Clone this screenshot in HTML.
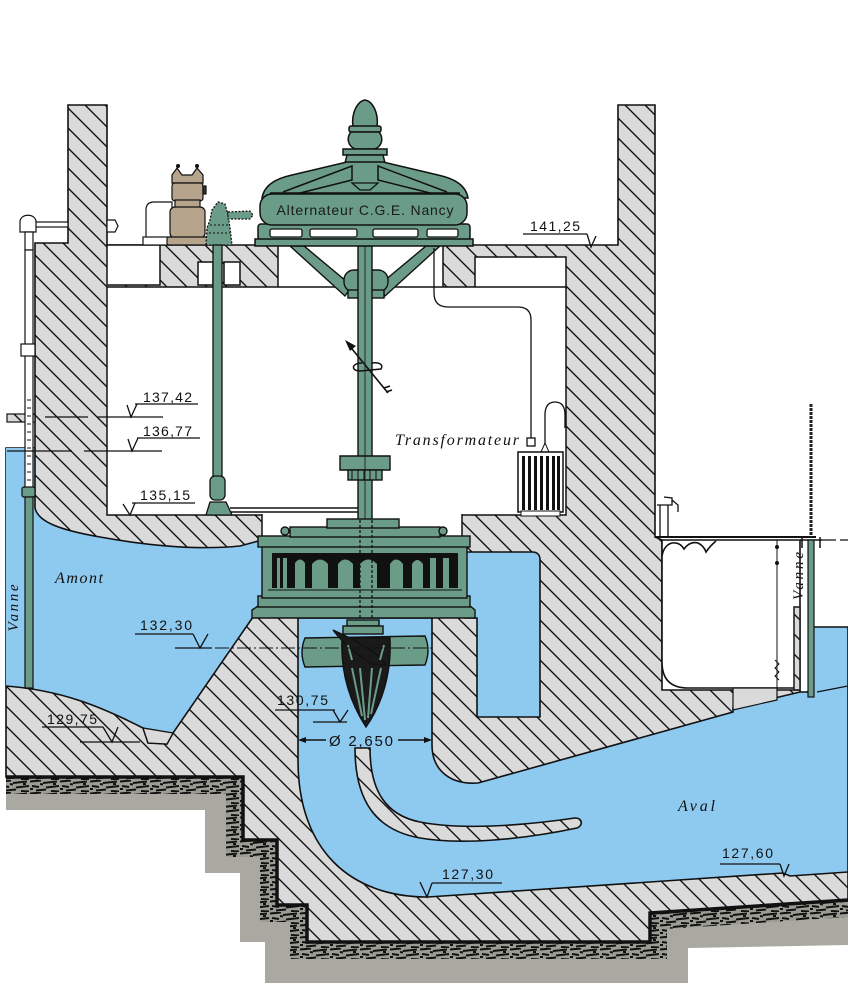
<!DOCTYPE html>
<html><head><meta charset="utf-8"><style>html,body{margin:0;padding:0;background:#fff}svg{display:block}</style></head>
<body>
<svg width="848" height="1000" viewBox="0 0 848 1000" xmlns="http://www.w3.org/2000/svg">
<defs>
<pattern id="h" patternUnits="userSpaceOnUse" width="20" height="20">
<rect width="20" height="20" fill="#dadada"/>
<path d="M-5,-5 L25,25 M-5,15 L5,25 M15,-5 L25,5" stroke="#111" stroke-width="1.4"/>
</pattern>
<pattern id="rk" patternUnits="userSpaceOnUse" width="30" height="12">
<rect width="30" height="12" fill="#9c9c94"/>
<path d="M0,1.5 L11,0.5 M13,3 L27,1.5 M2,6 L9,7 M16,7.5 L29,6 M6,10.5 L16,9.5 M21,11 L29,11.5 M10,4 L13,4.5 M23,4 L26,4 M0,9 L3,9" stroke="#111" stroke-width="2"/>
</pattern>
<clipPath id="rc"><path d="M6,777 L243,777 L243,840 L277,840 L277,905 L307,905 L307,942 L650,942 L650,913 L848,900 L848,945 L688,948 L688,983 L265,983 L265,942 L240,942 L240,873 L205,873 L205,810 L6,810 Z"/></clipPath>
</defs>
<rect width="848" height="1000" fill="#fff"/>

<!-- concrete envelope -->
<path d="M68,105 L107,105 L107,245 L618,245 L618,105 L655,105 L655,537 L662,540 L662,690 L800,690 L800,693 L848,686 L848,900 L650,913 L650,942 L307,942 L307,905 L277,905 L277,840 L243,840 L243,777 L6,777 L6,448 L35,448 L35,243 L68,243 Z" fill="url(#h)" stroke="#111" stroke-width="1.6"/>

<!-- outside ledge at 137,42 -->
<rect x="7" y="414" width="28" height="8" fill="url(#h)" stroke="#111" stroke-width="1.2"/>

<!-- white room overlays -->
<g fill="#fff" stroke="#111" stroke-width="1.5">
<rect x="107" y="245" width="53" height="40"/>
<rect x="198" y="262" width="15" height="23"/>
<rect x="224" y="262" width="16" height="23"/>
<rect x="278" y="245" width="165" height="43"/>
<rect x="475" y="257" width="91" height="31"/>
<rect x="107" y="287" width="459" height="228"/>
<rect x="262" y="514" width="200" height="24" stroke="none"/>
</g>
<path d="M262,514 L262,538 M462,514 L462,538" stroke="#111" stroke-width="1.5"/>

<!-- water -->
<path d="M6,448 L35,448 L35,508 C38,522 60,530 100,537 C150,546 200,550 240,546 L262,540 L262,612 L253,617 L173,733 L167,744 L148,743 L143,728 C100,706 60,690 6,686 Z" fill="#8ecaf0"/>
<path d="M35,448 L35,508 C38,522 60,530 100,537 C150,546 200,550 240,546 L262,540 M253,617 L173,733 L167,744 L148,743 L143,728 C100,706 60,690 6,686" fill="none" stroke="#111" stroke-width="1.6"/>
<path d="M298,618 L432,618 L432,745 C432,770 450,785 478,783 L733,712 L733,708 L800,692 L813,692 L813,627 L848,627 L848,872 L790,876 L783,873 L428,897 C350,897 298,850 298,760 Z" fill="#8ecaf0" stroke="#111" stroke-width="1.6"/>
<path d="M465,552 L532,552 Q540,552 540,560 L540,717 L477,717 L477,618 L465,618 Z" fill="#8ecaf0" stroke="#111" stroke-width="1.6"/>
<path d="M817,692 L848,686" stroke="#111" stroke-width="1.2"/>
<polygon points="143,728 148,743 167,744 173,733" fill="#dadada" stroke="#111" stroke-width="1.3"/>

<!-- chamber -->
<path d="M662,540 L800,540 L800,688 L688,688 Q662,688 662,662 Z" fill="#fff" stroke="#111" stroke-width="1.6"/>
<path d="M733,688 L777,688 L777,700 L733,710 Z" fill="#dadada" stroke="#111" stroke-width="1.2"/>
<path d="M655,537 L816,537" stroke="#111" stroke-width="2"/>
<path d="M822,540 L848,540" stroke="#111" stroke-width="1.2" stroke-dasharray="14 4"/>
<path d="M662,556 Q664,545 672,543 Q680,542 684,549 Q690,541 698,543 Q704,546 706,552 Q710,546 716,541" fill="#fff" stroke="#111" stroke-width="1.6"/>
<path d="M777,540 L777,688" stroke="#111" stroke-width="1"/>
<circle cx="777" cy="547" r="2" fill="#111"/><circle cx="777" cy="563" r="2" fill="#111"/>
<path d="M775,660 L779,664 L775,668 L779,672 L775,676 L779,680" stroke="#111" fill="none"/>
<rect x="794" y="607" width="6" height="83" fill="url(#h)" stroke="#222" stroke-width="1.6"/>
<path d="M660,537 L660,505 L668,505 L668,537 M657,505 L672,505 L672,498 L664,497 M672,500 L678,505 L678,512" fill="none" stroke="#111" stroke-width="1.3"/>

<!-- right vanne -->
<path d="M811,404 L811,537" stroke="#222" stroke-width="3" stroke-dasharray="3 1"/>
<path d="M802,537 L802,548 M820,537 L820,548 M800,540 L822,540" stroke="#111" stroke-width="1.5"/>
<rect x="808" y="540" width="6" height="157" fill="#6b9c88" stroke="#111" stroke-width="1.2"/>

<!-- rock -->
<path d="M6,777 L243,777 L243,840 L277,840 L277,905 L307,905 L307,942 L650,942 L650,913 L848,900 L848,945 L688,948 L688,983 L265,983 L265,942 L240,942 L240,873 L205,873 L205,810 L6,810 Z" fill="#a9a9a1"/>
<g clip-path="url(#rc)">
<path d="M6,777 L243,777 L243,840 L277,840 L277,905 L307,905 L307,942 L650,942 L650,913 L848,900" fill="none" stroke="url(#rk)" stroke-width="34"/>
</g>
<path d="M6,777 L243,777 L243,840 L277,840 L277,905 L307,905 L307,942 L650,942 L650,913 L848,900" fill="none" stroke="#111" stroke-width="3.5"/>

<!-- crescent vane -->
<path d="M355,748 L370,748 C370,790 385,815 420,822 C460,830 520,826 575,818 C583,818 583,826 577,828 C520,840 460,845 420,838 C375,830 355,800 355,748 Z" fill="url(#h)" stroke="#111" stroke-width="1.6"/>

<!-- left gauge & vanne -->
<g stroke="#111" stroke-width="1.2" fill="#fff">
<rect x="35" y="222" width="33" height="5"/>
<path d="M20,232 L20,222 C20,213 36,213 36,222 L36,232 Z"/>
<rect x="25" y="232" width="8" height="18"/>
<rect x="25" y="250" width="8" height="238"/>
<rect x="21" y="344" width="14" height="12"/>
<path d="M107,220 L115,220 L118,226 L115,232 L107,232 Z"/>
</g>
<path d="M27,400 L31,400 M27,408 L31,408 M27,416 L31,416 M27,424 L31,424 M27,432 L31,432 M27,440 L31,440 M27,448 L31,448 M27,456 L31,456 M27,464 L31,464 M27,472 L31,472 M27,480 L31,480" stroke="#111" stroke-width="1"/>
<rect x="22" y="487" width="13" height="10" rx="2" fill="#6b9c88" stroke="#111" stroke-width="1.2"/>
<rect x="25" y="497" width="8" height="191" fill="#6b9c88" stroke="#111" stroke-width="1.2"/>

<!-- regulator (beige) -->
<g stroke="#111" stroke-width="1.2">
<path d="M146,238 L146,210 Q146,202 154,202 L172,202 L172,238 Z" fill="#fff"/>
<rect x="143" y="237" width="29" height="8" fill="#fff"/>
<path d="M172,183 L172,175 L177,168 L182,175 L192,175 L197,168 L203,175 L203,183 Z" fill="#b6a58c"/>
<rect x="172" y="183" width="31" height="18" rx="3" fill="#b6a58c"/>
<rect x="175" y="200" width="25" height="8" fill="#b6a58c"/>
<rect x="170" y="207" width="35" height="31" rx="5" fill="#b6a58c"/>
<rect x="167" y="237" width="41" height="8" rx="2" fill="#b6a58c"/>
<rect x="203" y="186" width="3" height="8" fill="#333"/>
</g>
<circle cx="178" cy="166" r="2" fill="#111"/><circle cx="197" cy="166" r="2" fill="#111"/>

<!-- exciter (dotted) -->
<path d="M206,245 L207,228 L210,220 L212,210 L218,202 L225,204 L228,215 L230,228 L232,245 Z" fill="#6b9c88" stroke="#111" stroke-width="1.3" stroke-dasharray="2 1.5"/>
<path d="M228,212 L250,211 L253,215 L250,219 L228,219 Z" fill="#6b9c88" stroke="#111" stroke-width="1.2" stroke-dasharray="2 1.5"/>
<path d="M210,225 L228,225 M209,233 L230,233" stroke="#111" stroke-dasharray="2 2"/>

<!-- left rod -->
<g fill="#6b9c88" stroke="#111" stroke-width="1.3">
<rect x="213" y="245" width="9" height="233"/>
<rect x="210" y="476" width="15" height="24" rx="5"/>
<path d="M206,515 L210,502 L226,502 L232,515 Z"/>
</g>
<path d="M230,508 L360,508 M230,512 L360,512" stroke="#111" stroke-width="1.6"/>

<!-- generator support -->
<g fill="#6b9c88" stroke="#111" stroke-width="1.4">
<path d="M290,246 L304,246 L352,286 L345,296 Z"/>
<path d="M440,246 L426,246 L378,286 L385,296 Z"/>
<rect x="344" y="270" width="44" height="22" rx="10"/>
<rect x="348" y="290" width="36" height="8"/>
<rect x="358" y="246" width="14" height="274"/>
<path d="M340,456 L390,456 L390,470 L340,470 Z"/>
<rect x="348" y="470" width="34" height="10"/>
</g>
<path d="M365,246 L365,520" stroke="#111" stroke-width="0.8"/>
<path d="M352,470 L352,480 M358,470 L358,480 M364,470 L364,480 M370,470 L370,480 M376,470 L376,480" stroke="#111"/>
<!-- rotation symbol -->
<path d="M348,344 L388,393 M384,388 L390,386 M386,392 L392,390" stroke="#111" stroke-width="1.6" fill="none"/>
<path d="M345,340 L356,346 L350,351 Z" fill="#111"/>
<path d="M362,363 C351,363 351,371 360,371 L381,369 C384,364 378,362 372,363" fill="none" stroke="#111" stroke-width="1.5"/>

<!-- generator -->
<g fill="#6b9c88" stroke="#111" stroke-width="1.5">
<path d="M353,127 C351,112 358,101 365,100 C372,101 379,112 377,127 Z"/>
<rect x="349" y="126" width="32" height="6" rx="2"/>
<path d="M351,132 C346,138 348,146 355,149 L375,149 C382,146 384,138 379,132 Z"/>
<rect x="343" y="149" width="44" height="6"/>
<path d="M347,155 L383,155 L385,163 L345,163 Z"/>
<path d="M262,198 C264,186 274,179 292,175 L347,162 L383,162 L438,175 C456,179 466,186 468,198 Z"/>
<rect x="258" y="224" width="212" height="16" rx="3"/>
<rect x="260" y="194" width="207" height="31" rx="12"/>
<rect x="255" y="239" width="218" height="7"/>
</g>
<g fill="none" stroke="#111" stroke-width="1.5">
<path d="M283,192 L352,166 L352,180 L300,193"/>
<path d="M447,192 L378,166 L378,180 L430,193"/>
<path d="M270,193 L460,193"/>
</g>
<path d="M352,183 L378,183 L370,190 L360,190 Z" fill="#6b9c88" stroke="#111" stroke-width="1.3"/>
<g fill="#fff" stroke="#111" stroke-width="1.3">
<rect x="270" y="229" width="32" height="8" rx="2"/>
<rect x="310" y="229" width="47" height="8" rx="2"/>
<rect x="373" y="229" width="45" height="8" rx="2"/>
<rect x="427" y="229" width="31" height="8" rx="2"/>
</g>
<text x="365" y="215" text-anchor="middle" font-family="Liberation Sans, sans-serif" font-size="14" fill="#1a1a1a" textLength="177" lengthAdjust="spacing">Alternateur C.G.E. Nancy</text>

<!-- turbine -->
<g fill="#6b9c88" stroke="#111" stroke-width="1.4">
<path d="M252,618 L475,618 L475,610 L470,606 L258,606 L252,610 Z"/>
<rect x="258" y="596" width="212" height="11"/>
<rect x="262" y="546" width="205" height="52"/>
<rect x="258" y="536" width="212" height="11"/>
<rect x="290" y="527" width="150" height="10"/>
<rect x="327" y="519" width="72" height="9"/>
<circle cx="285" cy="531" r="4"/>
<circle cx="443" cy="531" r="4"/>
</g>
<rect x="272" y="553" width="186" height="35" fill="#111"/>
<g fill="#6b9c88">
<rect x="277" y="558" width="3" height="30"/>
<rect x="283" y="558" width="4" height="30"/>
<path d="M295,588 L295,563 Q300,556 305,563 L305,588 Z"/>
<path d="M312,588 L312,564 Q320,555 328,564 L328,588 Z"/>
<path d="M338,588 L338,564 Q345,555 353,564 L353,588 Z"/>
<path d="M360,588 L360,564 Q368,555 377,564 L377,588 Z"/>
<path d="M390,588 L390,564 Q396,555 403,564 L403,588 Z"/>
<path d="M412,588 L412,564 Q417,556 423,564 L423,588 Z"/>
<rect x="430" y="558" width="6" height="30"/>
<rect x="443" y="558" width="6" height="30"/>
</g>
<path d="M268,590 L462,590" stroke="#111" stroke-width="1"/>
<path d="M360,520 L360,620 M372,520 L372,620" stroke="#111" stroke-width="1.3" stroke-dasharray="3 2"/>

<!-- runner -->
<g stroke="#111" stroke-width="1.4">
<path d="M305,638 L425,636 Q431,650 425,665 L305,667 Q299,652 305,638 Z" fill="#6b9c88"/>
<rect x="347" y="620" width="32" height="6" fill="#6b9c88"/>
<rect x="343" y="626" width="40" height="8" fill="#6b9c88"/>
<path d="M342,638 C340,680 355,710 366,727 C378,710 392,680 390,638 Z" fill="#1a1a1a"/>
<path d="M333,630 L350,638 C368,648 380,655 386,665 L372,664 C360,656 345,646 333,630 Z" fill="#1a1a1a"/>
</g>
<path d="M352,668 L362,716 M360,668 L365,720 M372,668 L368,718 M381,668 L371,714 M348,645 L352,660 M384,645 L380,660" stroke="#6b9c88" stroke-width="2" fill="none"/>

<!-- dash-dot centre line & dimension -->
<path d="M215,648 L432,648" stroke="#111" stroke-width="1" stroke-dasharray="14 3 2 3"/>
<path d="M300,740 L326,740 M398,740 L430,740" stroke="#111" stroke-width="1.4"/>
<path d="M298,740 L306,737 L306,743 Z M432,740 L424,737 L424,743 Z" fill="#111"/>
<text x="329" y="746" font-family="Liberation Sans, sans-serif" font-size="15" fill="#111" textLength="64" lengthAdjust="spacing">Ø 2,650</text>

<!-- transformer -->
<g stroke="#111" stroke-width="1.3" fill="none">
<path d="M531,438 L531,320 Q531,307 518,307 L448,307 Q434,307 434,293 L434,248"/>
<path d="M545,447 L545,415 Q545,402 555,402 Q565,402 565,415 L565,428"/>
</g>
<rect x="527" y="438" width="8" height="8" fill="#fff" stroke="#111" stroke-width="1.3"/>
<path d="M541,452 L545,443 L549,452 Z" fill="#fff" stroke="#111"/>
<rect x="518" y="452" width="45" height="60" fill="#fff" stroke="#111" stroke-width="1.5"/>
<g fill="#111">
<rect x="522" y="456" width="3" height="54"/><rect x="528" y="456" width="3" height="54"/><rect x="534" y="456" width="3" height="54"/><rect x="540" y="456" width="3" height="54"/><rect x="546" y="456" width="3" height="54"/><rect x="552" y="456" width="3" height="54"/><rect x="557" y="456" width="3" height="54"/>
</g>
<rect x="521" y="511" width="39" height="5" fill="#fff" stroke="#111"/>

<!-- text labels -->
<g font-family="Liberation Sans, sans-serif" font-size="14" fill="#111">
<text x="530" y="231" textLength="50" lengthAdjust="spacing">141,25</text>
<text x="143" y="402" textLength="49" lengthAdjust="spacing">137,42</text>
<text x="143" y="436" textLength="49" lengthAdjust="spacing">136,77</text>
<text x="140" y="500" textLength="50" lengthAdjust="spacing">135,15</text>
<text x="140" y="630" textLength="52" lengthAdjust="spacing">132,30</text>
<text x="47" y="724" textLength="50" lengthAdjust="spacing">129,75</text>
<text x="277" y="705" textLength="51" lengthAdjust="spacing">130,75</text>
<text x="442" y="879" textLength="51" lengthAdjust="spacing">127,30</text>
<text x="722" y="858" textLength="51" lengthAdjust="spacing">127,60</text>
</g>
<g stroke="#111" stroke-width="1.3" fill="none">
<path d="M523,234 L587,234 M587,234 L591,247 L596,236"/>
<path d="M135,404 L198,404 M127,405 L131,417 L137,404 M45,417 L88,417 M97,417 L163,417"/>
<path d="M137,438 L200,438 M128,439 L132,451 L138,438 M7,451 L72,451 M84,451 L162,451"/>
<path d="M132,503 L195,503 M123,504 L130,515 L135,503"/>
<path d="M135,634 L193,634 M193,634 L200,648 L208,634 M175,648 L212,648"/>
<path d="M42,727 L103,727 M103,727 L112,742 L118,727 M80,742 L140,742"/>
<path d="M275,710 L335,710 M333,710 L340,722 L348,710 M313,722 L347,722"/>
<path d="M432,883 L502,883 M420,882 L427,897 L432,883"/>
<path d="M720,864 L780,864 M780,864 L784,876 L789,864"/>
</g>
<g font-family="Liberation Serif, serif" font-style="italic" fill="#111">
<text x="55" y="583" font-size="16" textLength="48" lengthAdjust="spacing">Amont</text>
<text x="678" y="811" font-size="16" textLength="37" lengthAdjust="spacing">Aval</text>
<text x="395" y="445" font-size="16" textLength="124" lengthAdjust="spacing">Transformateur</text>
<text transform="translate(18,608) rotate(-90)" text-anchor="middle" font-size="15" textLength="47" lengthAdjust="spacing">Vanne</text>
<text transform="translate(803,576) rotate(-90)" text-anchor="middle" font-size="15" textLength="48" lengthAdjust="spacing">Vanne</text>
</g>
</svg>
</body></html>
